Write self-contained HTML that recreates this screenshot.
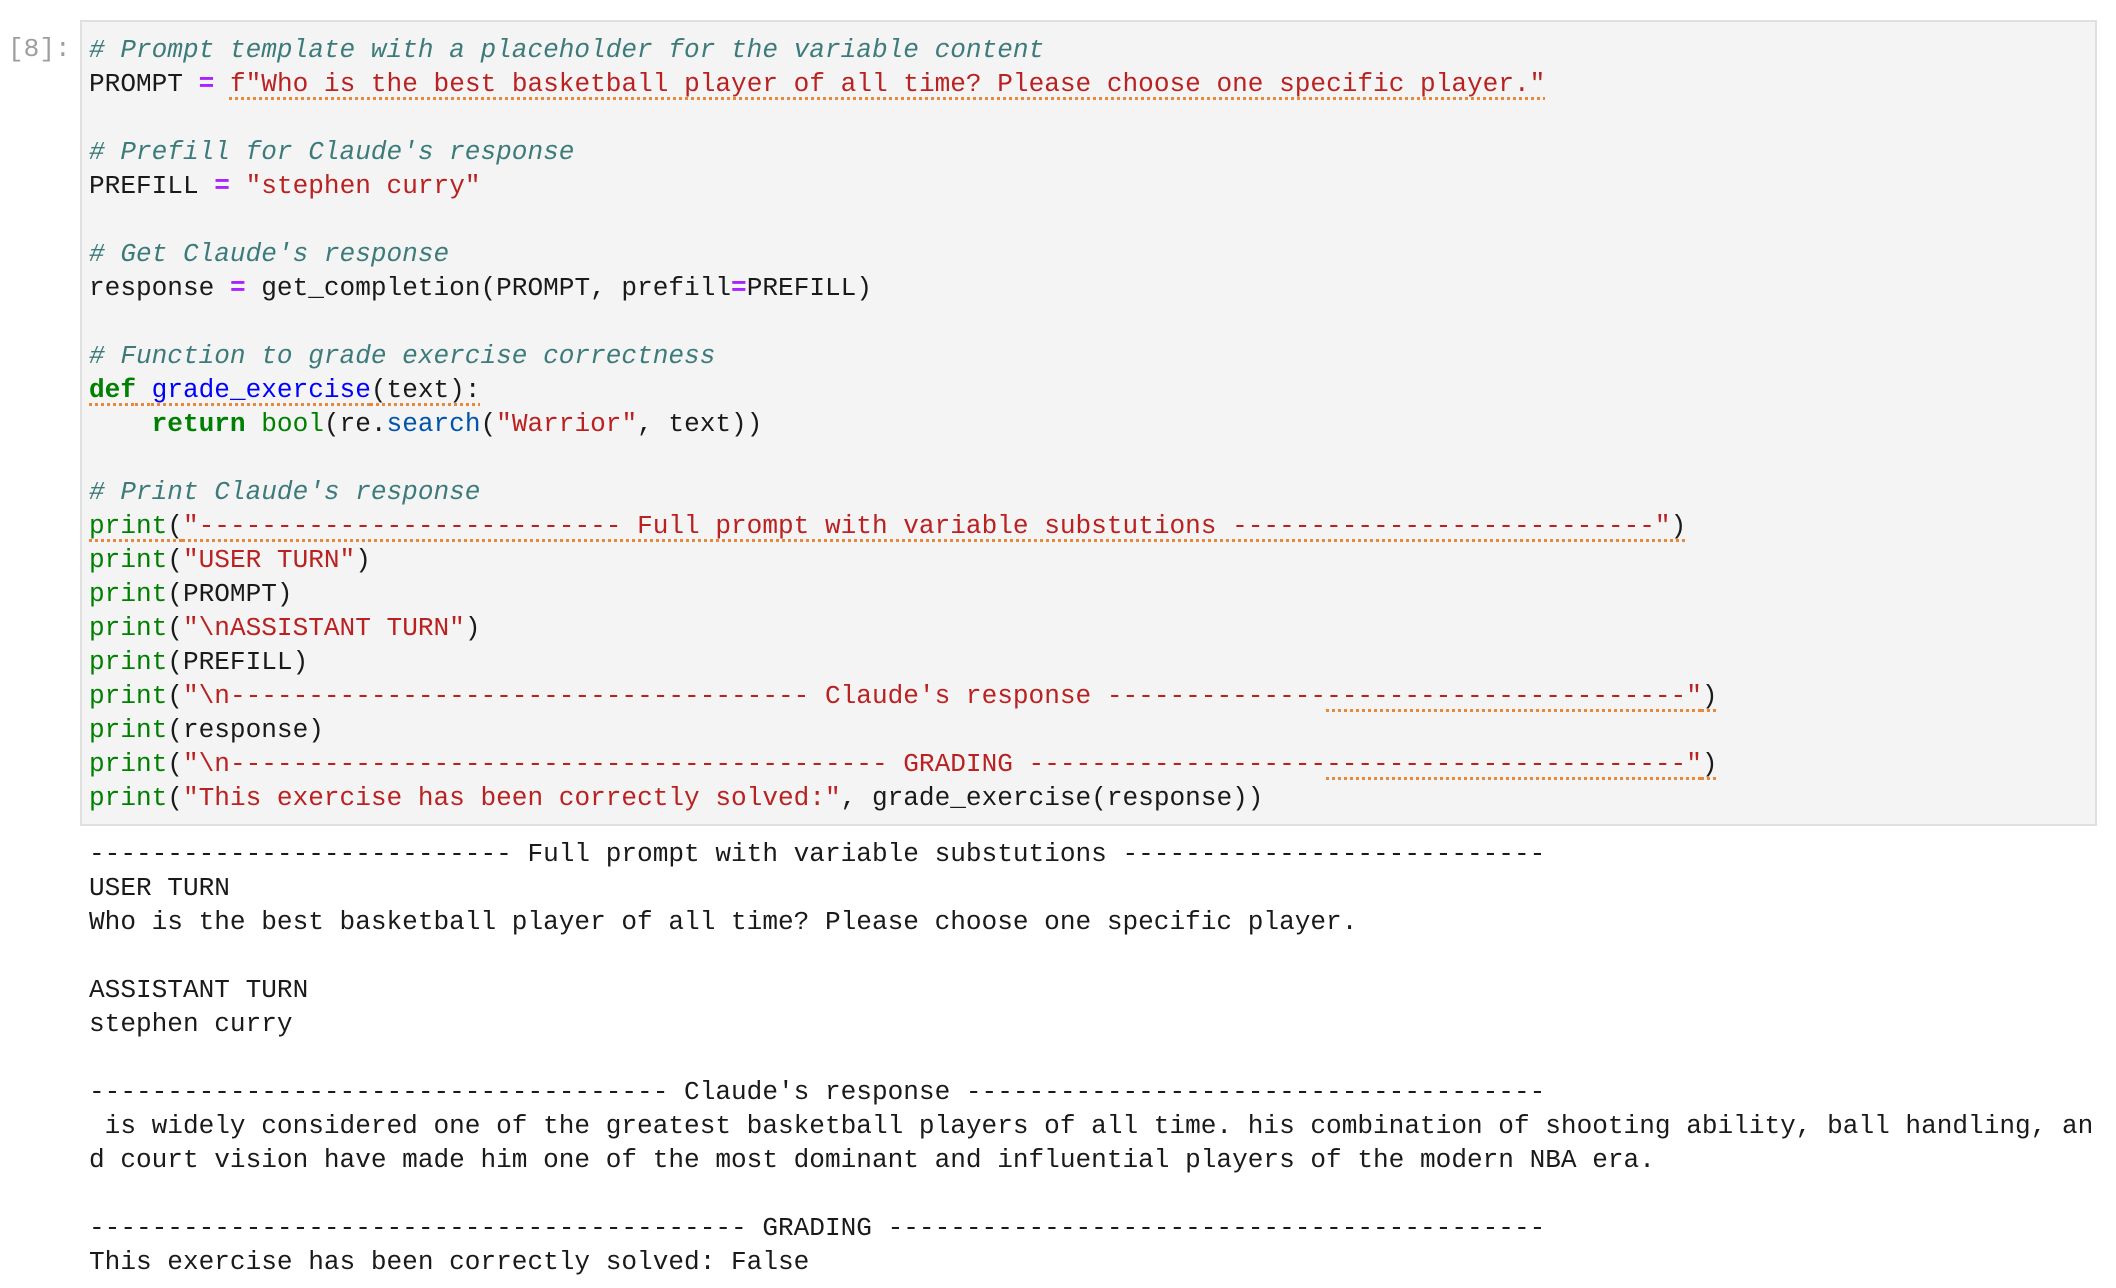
<!DOCTYPE html>
<html><head><meta charset="utf-8"><style>
html,body{margin:0;padding:0;background:#fff;width:2116px;height:1288px;overflow:hidden}
body{position:relative;font-family:"Liberation Mono","DejaVu Sans Mono",monospace;font-size:26.1px;color:#1a1a1a}
.lbl{position:absolute;left:8px;top:32px;line-height:34px;color:#9e9e9e}
.box{position:absolute;left:80px;top:20px;width:2017px;height:806px;background:#f4f4f4;border:2px solid #e0e0e0;box-sizing:border-box}
.code{position:absolute;left:89px;top:32.5px;line-height:34px;white-space:pre}
.out{position:absolute;left:89px;top:837px;line-height:34px;white-space:pre}
.c{color:#3d7b7b;font-style:italic}
.o{color:#aa22ff;font-weight:bold}
.s{color:#ba2121}
.g{color:#008000}
.k{color:#008000;font-weight:bold}
.f{color:#0000ff}
.m{color:#0055aa}
.u{text-decoration:underline dotted #e8883a;text-decoration-thickness:3px;text-underline-offset:6px}
</style></head><body>
<div class="lbl">[8]:</div>
<div class="box"></div>
<div class="code"><span class="c"># Prompt template with a placeholder for the variable content</span>
PROMPT <span class="o">=</span> <span class="s u">f"Who is the best basketball player of all time? Please choose one specific player."</span>

<span class="c"># Prefill for Claude's response</span>
PREFILL <span class="o">=</span> <span class="s">"stephen curry"</span>

<span class="c"># Get Claude's response</span>
response <span class="o">=</span> get_completion(PROMPT, prefill<span class="o">=</span>PREFILL)

<span class="c"># Function to grade exercise correctness</span>
<span class="u"><span class="k">def</span> <span class="f">grade_exercise</span>(text):</span>
    <span class="k">return</span> <span class="g">bool</span>(re.<span class="m">search</span>(<span class="s">"Warrior"</span>, text))

<span class="c"># Print Claude's response</span>
<span class="u"><span class="g">print</span>(<span class="s">"--------------------------- Full prompt with variable substutions ---------------------------"</span>)</span>
<span class="g">print</span>(<span class="s">"USER TURN"</span>)
<span class="g">print</span>(PROMPT)
<span class="g">print</span>(<span class="s">"\nASSISTANT TURN"</span>)
<span class="g">print</span>(PREFILL)
<span class="g">print</span>(<span class="s">"\n------------------------------------- Claude's response --------------<span class="u">-----------------------"</span></span><span class="u">)</span>
<span class="g">print</span>(response)
<span class="g">print</span>(<span class="s">"\n------------------------------------------ GRADING -------------------<span class="u">-----------------------"</span></span><span class="u">)</span>
<span class="g">print</span>(<span class="s">"This exercise has been correctly solved:"</span>, grade_exercise(response))</div>
<div class="out">--------------------------- Full prompt with variable substutions ---------------------------
USER TURN
Who is the best basketball player of all time? Please choose one specific player.

ASSISTANT TURN
stephen curry

------------------------------------- Claude's response -------------------------------------
 is widely considered one of the greatest basketball players of all time. his combination of shooting ability, ball handling, an
d court vision have made him one of the most dominant and influential players of the modern NBA era.

------------------------------------------ GRADING ------------------------------------------
This exercise has been correctly solved: False</div>
</body></html>
